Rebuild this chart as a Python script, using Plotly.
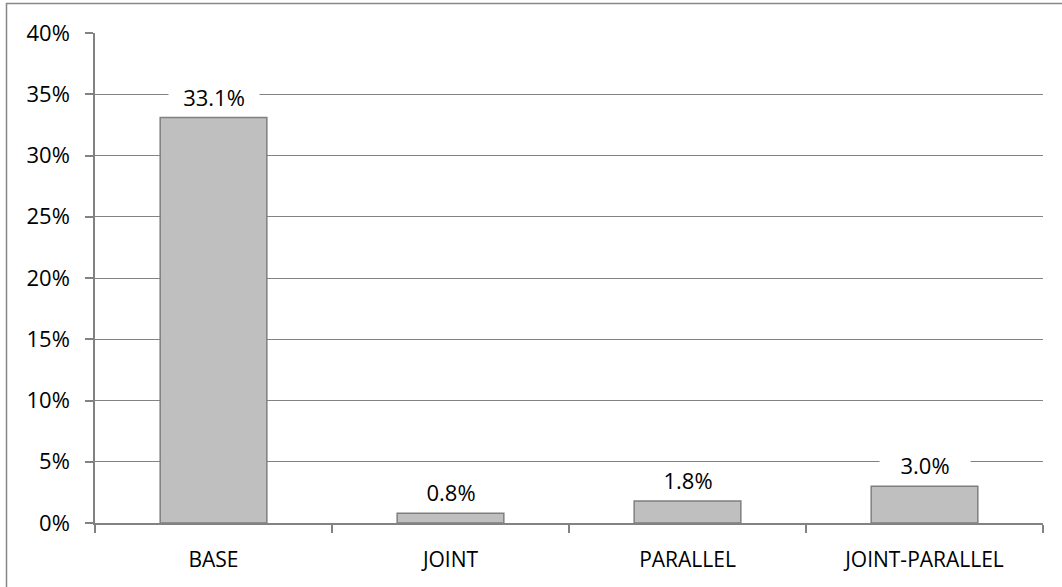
import plotly.graph_objects as go

# Share of runs per configuration (percent)
categories = ["BASE", "JOINT", "PARALLEL", "JOINT-PARALLEL"]
values = [33.1, 0.8, 1.8, 3.0]
y_ticks = [0, 5, 10, 15, 20, 25, 30, 35, 40]

W, H = 1062, 587
L, R, T, B = 95, 19, 33, 64
plot_w = W - L - R
plot_h = H - T - B

FONT = "Open Sans"
GRID = "#828282"

fig = go.Figure()
fig.add_trace(go.Bar(
    x=categories,
    y=values,
    marker=dict(color="#BFBFBF", line=dict(color="#7F7F7F", width=1.5)),
    width=0.45,
    hoverinfo="skip",
))

# value labels on a white box so they break the gridlines
for cat, v in zip(categories, values):
    fig.add_annotation(
        x=cat, y=v, xref="x", yref="y",
        text=f"{v:.1f}%",
        showarrow=False,
        yanchor="middle",
        yshift=21,
        bgcolor="white",
        width=88, height=22,
        font=dict(family=FONT, size=22, color="#000000"),
    )

# outer chart frame
fig.add_shape(
    type="rect", xref="paper", yref="paper",
    x0=(6.5 - L) / plot_w, x1=1.2,
    y0=-0.3, y1=(H - B - 3.5) / plot_h,
    line=dict(color="#878787", width=1.5),
    fillcolor="rgba(0,0,0,0)",
    layer="below",
)

fig.update_layout(
    width=W, height=H,
    margin=dict(l=L, r=R, t=T, b=B, pad=0),
    paper_bgcolor="white",
    plot_bgcolor="white",
    showlegend=False,
    font=dict(family=FONT, size=22, color="#000000"),
    bargap=0.55,
)

fig.update_xaxes(
    type="category",
    showline=True, linecolor=GRID, linewidth=1.5,
    ticks="outside", tickson="boundaries", ticklen=8,
    tickcolor=GRID, tickwidth=1.5,
    showgrid=False,
    ticklabelstandoff=17,
    tickfont=dict(family=FONT, size=21, color="#000000"),
)

fig.update_yaxes(
    range=[0, 40],
    tickvals=y_ticks,
    ticktext=[f"{t}%" for t in y_ticks],
    showline=True, linecolor=GRID, linewidth=1.5,
    ticks="outside", ticklen=8, tickcolor=GRID, tickwidth=1.5,
    showgrid=True, gridcolor=GRID, gridwidth=1,
    zeroline=False,
    ticklabelstandoff=11,
    tickfont=dict(family=FONT, size=22, color="#000000"),
)

fig.write_html("out.html")
